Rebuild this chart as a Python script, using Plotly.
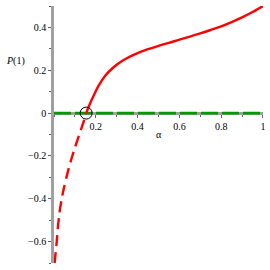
import plotly.graph_objects as go

# dashed branch (alpha < root)
alpha_dash = [0.003, 0.008, 0.013, 0.02, 0.026, 0.037, 0.048, 0.06, 0.072, 0.084, 0.096, 0.112, 0.128, 0.142, 0.154]
p_dash = [-0.70, -0.65, -0.60, -0.52, -0.468, -0.40, -0.348, -0.298, -0.253, -0.212, -0.174, -0.126, -0.08, -0.04, 0.0]

# solid branch (alpha > root)
alpha_solid = [0.154, 0.17, 0.189, 0.213, 0.245, 0.285, 0.333, 0.381, 0.446, 0.50, 0.55, 0.60,
               0.65, 0.70, 0.75, 0.80, 0.85, 0.90, 0.95, 1.0]
p_solid = [0.0, 0.039, 0.080, 0.127, 0.174, 0.214, 0.248, 0.272, 0.297, 0.314, 0.328, 0.343,
           0.357, 0.372, 0.388, 0.405, 0.425, 0.447, 0.472, 0.50]

zero_alpha = [0.0, 1.0]
zero_p = [0.0, 0.0]

root_alpha = [0.154]
root_p = [0.0]

x_ticks = [0.2, 0.4, 0.6, 0.8, 1.0]
x_ticklabels = ["0.2", "0.4", "0.6", "0.8", "1"]
y_ticks = [-0.6, -0.4, -0.2, 0.0, 0.2, 0.4]
y_ticklabels = ["\u22120.6", "\u22120.4", "\u22120.2", "0", "0.2", "0.4"]

fig = go.Figure()
fig.add_trace(go.Scatter(x=zero_alpha, y=zero_p, mode="lines",
                         line=dict(color="#009a00", width=2.6, dash="17px,4px")))
fig.add_trace(go.Scatter(x=alpha_dash, y=p_dash, mode="lines",
                         line=dict(color="#ff0000", width=2.4, dash="11px,6px", shape="spline", smoothing=0.8)))
fig.add_trace(go.Scatter(x=alpha_solid, y=p_solid, mode="lines",
                         line=dict(color="#ff0000", width=2.4, shape="spline", smoothing=1.0)))
fig.add_trace(go.Scatter(x=root_alpha, y=root_p, mode="markers",
                         marker=dict(symbol="circle-open", size=12, color="black",
                                     line=dict(width=1, color="black"))))

font = dict(family="Liberation Serif", size=10, color="black")

fig.update_layout(
    width=270, height=270,
    margin=dict(l=54, r=7, t=6, b=7),
    paper_bgcolor="white", plot_bgcolor="white",
    showlegend=False,
    font=font,
    xaxis=dict(range=[0, 1.0001], anchor="free", position=0.7 / 1.2,
               showgrid=False, zeroline=False, layer="below traces",
               showline=True, linecolor="#a0a0a0", linewidth=2.5,
               tickmode="array", tickvals=x_ticks, ticktext=x_ticklabels,
               ticks="outside", ticklen=3, tickcolor="#606060", tickwidth=1,
               minor=dict(ticks="outside", ticklen=2, dtick=0.1, tickcolor="#606060"),
               tickfont=font),
    yaxis=dict(range=[-0.7, 0.5],
               showgrid=False, zeroline=False, layer="below traces",
               showline=True, linecolor="#a0a0a0", linewidth=2.5,
               tickmode="array", tickvals=y_ticks, ticktext=y_ticklabels,
               ticks="outside", ticklen=3, tickcolor="#606060", tickwidth=1,
               minor=dict(ticks="outside", ticklen=2, dtick=0.1, tickcolor="#606060"),
               tickfont=font),
)

W, H = 270 - 54 - 7, 270 - 6 - 7
fig.add_annotation(text="<i>P</i>(1)", x=(15 - 54) / W, y=(263 - 61) / H, xref="paper", yref="paper",
                   xanchor="center", yanchor="middle", showarrow=False, font=font)
fig.add_annotation(text="\u03b1", x=(159 - 54) / W, y=(263 - 134) / H, xref="paper", yref="paper",
                   xanchor="center", yanchor="middle", showarrow=False, font=font)

fig.write_html("out.html",
               config={"displayModeBar": False},
               post_script="document.body.style.margin='0';document.body.style.padding='0';"
                           "document.body.style.overflow='hidden';")
